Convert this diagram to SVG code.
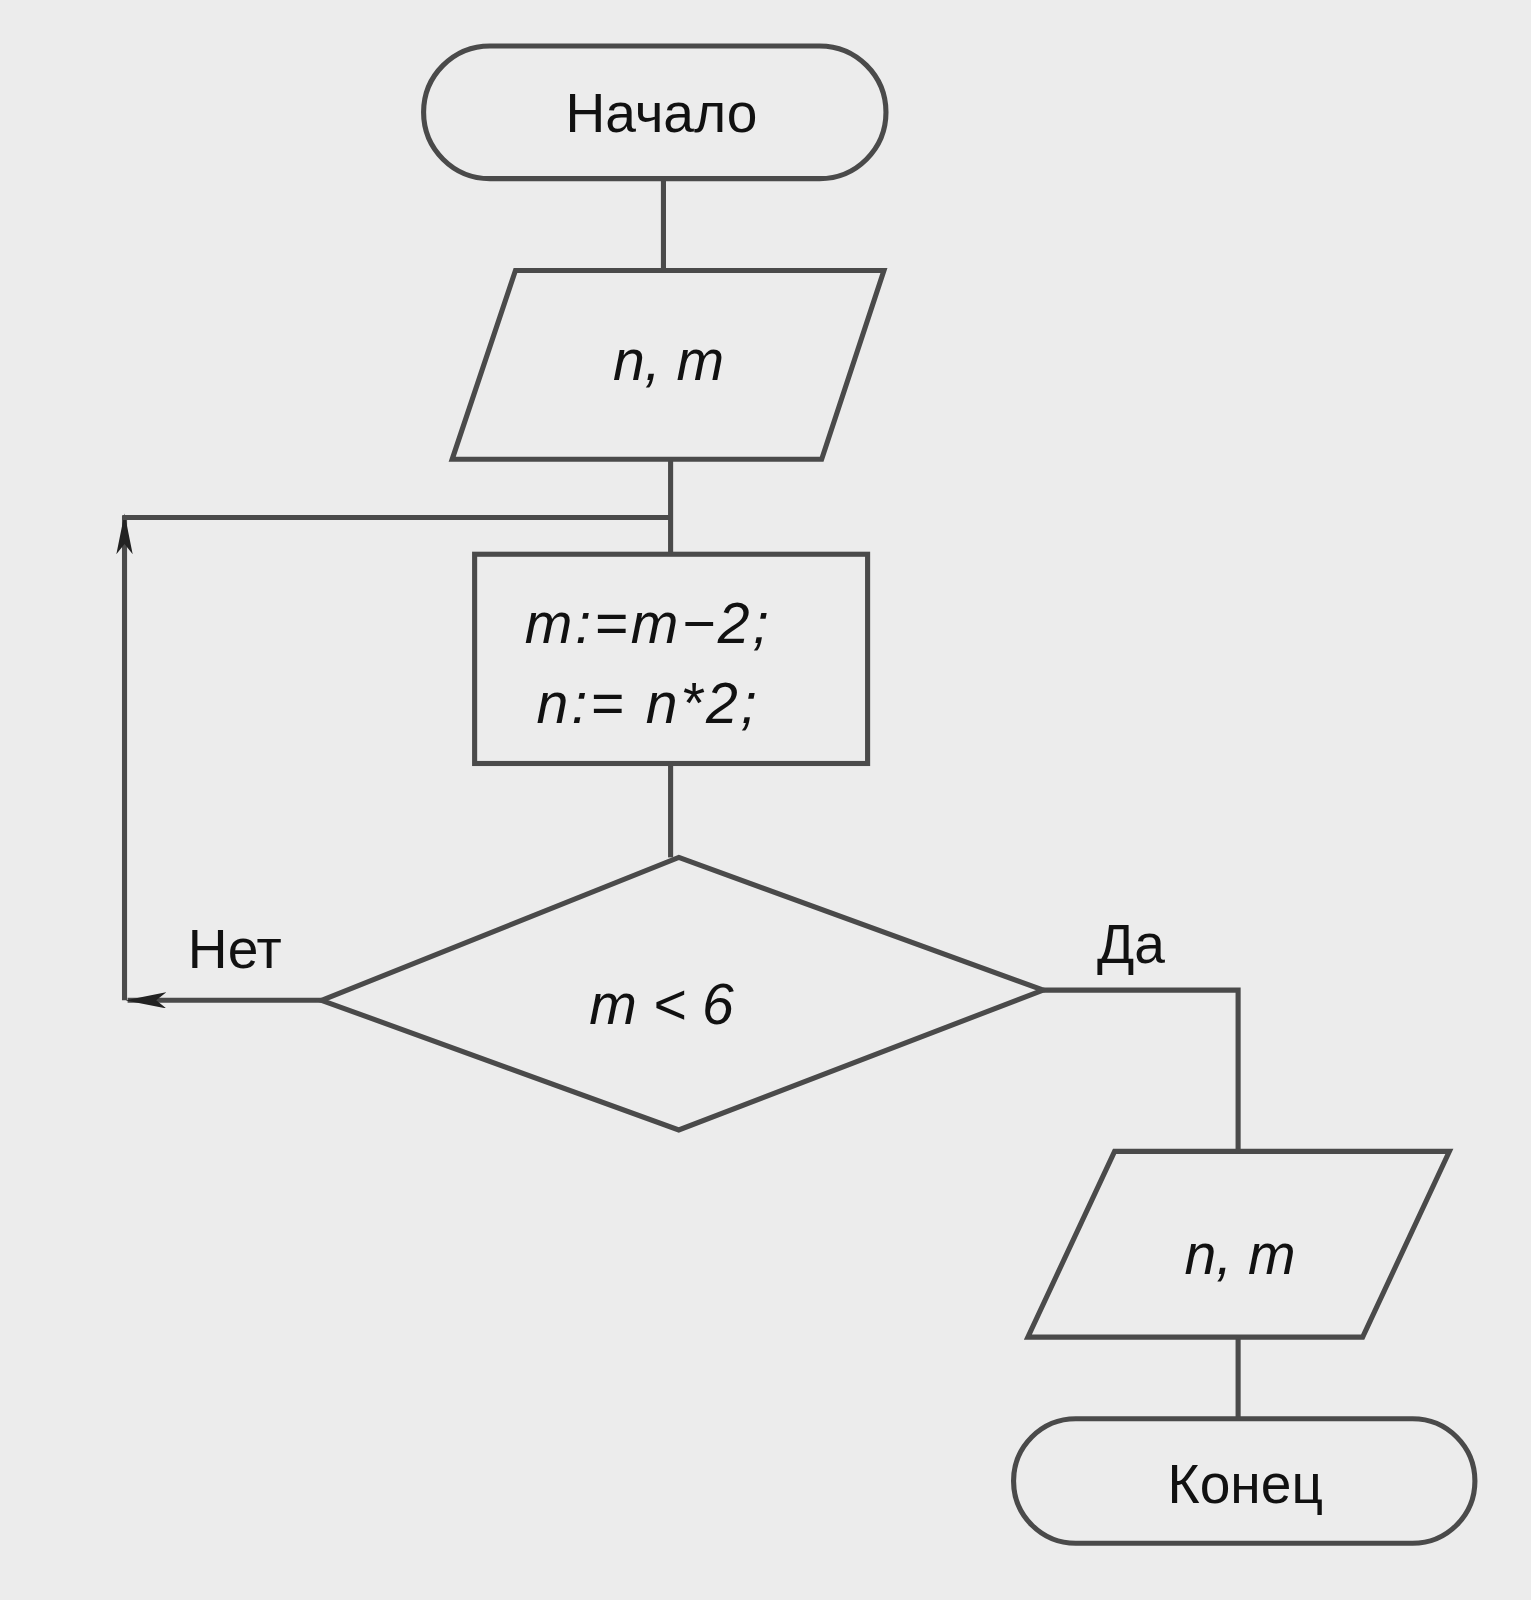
<svg xmlns="http://www.w3.org/2000/svg" width="1531" height="1600" viewBox="0 0 1531 1600">
<defs>
<style>
.s{fill:none;stroke:#4a4a4a;stroke-width:5;stroke-linejoin:miter}
.t{font-family:"Liberation Sans",Arial,sans-serif;font-size:54px;fill:#111;text-anchor:middle}
.i{font-style:italic;font-size:56px}
</style>
<marker id="a" viewBox="0 0 40 16" refX="38" refY="8" markerWidth="40" markerHeight="16" markerUnits="userSpaceOnUse" orient="auto"><path d="M0,0 L40,8 L0,16 L10,8 Z" fill="#222"/></marker>
</defs>
<rect width="1531" height="1600" fill="#ececec"/>
<g transform="scale(1.0207)">
<g id="connectors">
<path class="s" d="M650,175 V265"/>
<path class="s" d="M657,450 V543"/>
<path class="s" d="M657,748 V840"/>
<path class="s" d="M315,980 H125" marker-end="url(#a)"/>
<path class="s" d="M122,980 V505" marker-end="url(#a)"/>
<path class="s" d="M120,507 H657"/>
<path class="s" d="M1022,970 H1213 V1128"/>
<path class="s" d="M1213,1310 V1390"/>
<text class="t" x="230" y="948">Нет</text>
<text class="t" x="1108" y="943">Да</text>
</g>
<g id="start"><rect class="s" x="415" y="45" width="453" height="130" rx="65"/><text class="t" x="648" y="129">Начало</text></g>
<g id="input"><polygon class="s" points="505,265 866,265 805,450 443,450"/><text class="t i" x="655" y="372">n, m</text></g>
<g id="process"><rect class="s" x="465" y="543" width="385" height="205"/><text class="t i" x="635" y="630" letter-spacing="3">m:=m−2;</text><text class="t i" x="635" y="708" letter-spacing="3">n:= n*2;</text></g>
<g id="decision"><polygon class="s" points="665,840 1022,970 665,1107 315,980"/><text class="t i" x="648" y="1003">m &lt; 6</text></g>
<g id="output"><polygon class="s" points="1092,1128 1420,1128 1335,1310 1007,1310"/><text class="t i" x="1215" y="1248">n, m</text></g>
<g id="end"><rect class="s" x="993" y="1390" width="452" height="122" rx="61"/><text class="t" x="1220" y="1473">Конец</text></g>
</g>
</svg>
